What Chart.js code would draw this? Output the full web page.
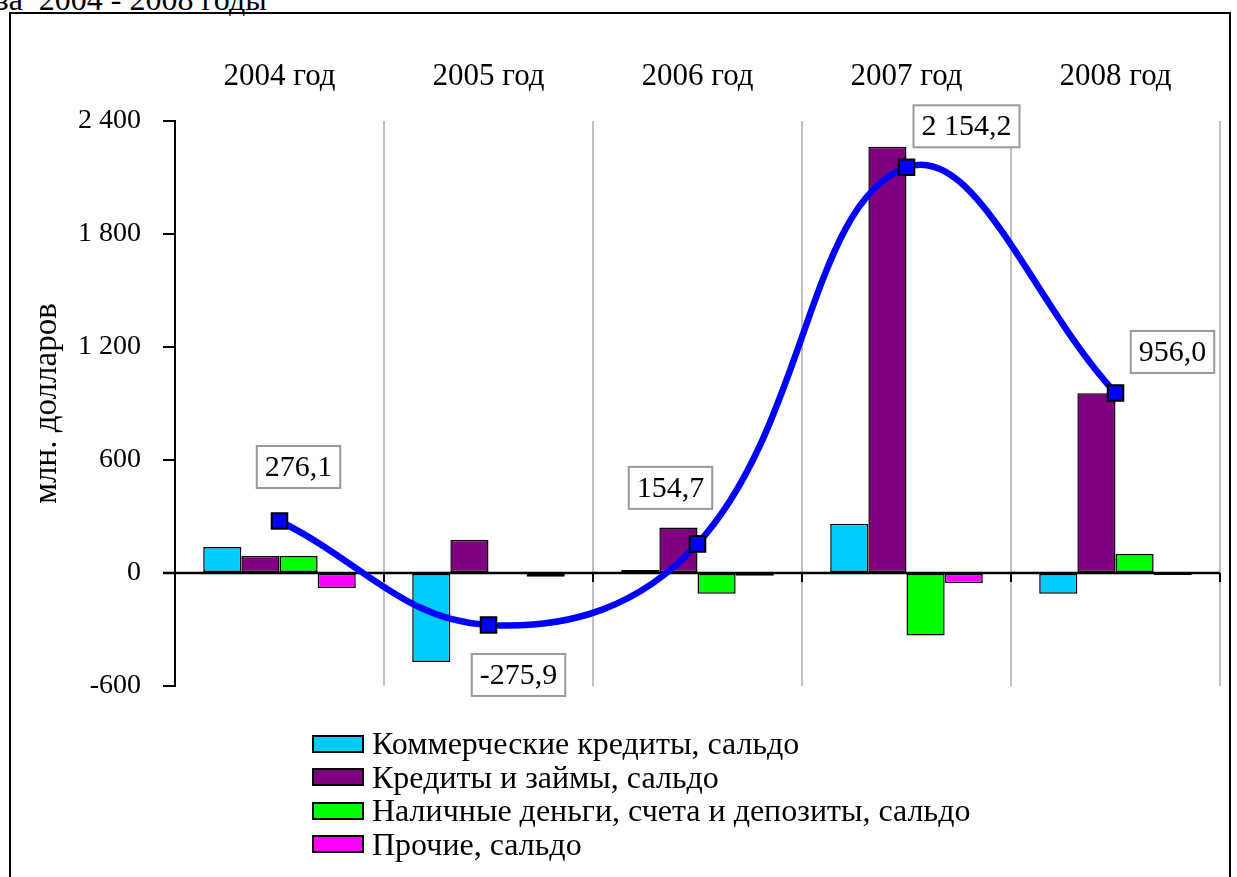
<!DOCTYPE html>
<html>
<head>
<meta charset="utf-8">
<script src="https://cdn.jsdelivr.net/npm/chart.js@4.4.0/dist/chart.umd.min.js"></script>
<style>
  html, body { margin: 0; padding: 0; background: #fff; }
  body { width: 1237px; height: 877px; position: relative; overflow: hidden; font-family: "Liberation Serif", "Times New Roman", serif; }
  #topText { position: absolute; left: -4px; top: -17px; font-size: 32px; line-height: 32px; white-space: pre; color: #000; }
  #frame { position: absolute; left: 9px; top: 12px; width: 1222px; height: 880px; border: 2px solid #000; box-sizing: border-box; }
  #chartWrap { position: absolute; left: 0; top: 0; width: 1237px; height: 877px; }
  #legend { position: absolute; left: 312px; top: 727px; font-size: 32px; line-height: 33.5px; color: #000; }
  .item { display: flex; align-items: center; white-space: nowrap; }
  .swatch { width: 52px; height: 18px; border: 2px solid #000; box-sizing: border-box; margin-right: 8px; }
</style>
</head>
<body>
<div id="topText">за  2004 - 2008 годы</div>
<div id="frame"></div>
<div id="chartWrap"><canvas id="chart" width="1237" height="877"></canvas></div>
<div id="legend"></div>
<script>
const years = ["2004 год", "2005 год", "2006 год", "2007 год", "2008 год"];
const commercial = [138, -472, 16, 262, -110];
const loans = [90, 176, 241, 2263, 954];
const cash = [90, 5, -110, -332, 101];
const other = [-80, -20, -15, -55, -10];
const total = [276.1, -275.9, 154.7, 2154.2, 956.0];
const yTicks = [-600, 0, 600, 1200, 1800, 2400];

const seriesNames = [
    "Коммерческие кредиты, сальдо",
    "Кредиты и займы, сальдо",
    "Наличные деньги, счета и депозиты, сальдо",
    "Прочие, сальдо"
];
const seriesColors = ["#00CCFF", "#800080", "#00FF00", "#FF00FF"];

const serif = "'Liberation Serif', 'Times New Roman', serif";

function fmt(v, dec) {
    let s = Math.abs(v).toFixed(dec).replace(".", ",");
    let parts = s.split(",");
    parts[0] = parts[0].replace(/\B(?=(\d{3})+(?!\d))/g, " ");
    return (v < 0 ? "-" : "") + parts.join(",");
}

// label box offsets from each point (px)
const labelOffsets = [[19, -54], [30, 50], [-27, -56], [60, -41], [57, -41]];

const extras = {
    id: "extras",
    beforeDatasetsDraw(chart) {
        const ctx = chart.ctx;
        const y = chart.scales.y;
        const area = chart.chartArea;
        const y0 = y.getPixelForValue(0);
        ctx.save();
        ctx.strokeStyle = "#000";
        ctx.lineWidth = 2.5;
        ctx.beginPath();
        ctx.moveTo(area.left - 12, y0);
        ctx.lineTo(area.right, y0);
        ctx.stroke();
        ctx.lineWidth = 2;
        const step = (area.right - area.left) / years.length;
        for (let i = 1; i <= years.length; i++) {
            const px = Math.round(area.left + step * i);
            ctx.beginPath();
            ctx.moveTo(px, y0);
            ctx.lineTo(px, y0 + 9);
            ctx.stroke();
        }
        ctx.restore();
    },
    afterDatasetsDraw(chart) {
        const ctx = chart.ctx;
        const meta = chart.getDatasetMeta(4);
        ctx.save();
        ctx.font = "30px " + serif;
        ctx.textAlign = "center";
        ctx.textBaseline = "middle";
        meta.data.forEach((pt, i) => {
            const txt = fmt(total[i], 1);
            const w = ctx.measureText(txt).width + 16;
            const h = 42;
            const cx = pt.x + labelOffsets[i][0];
            const cy = pt.y + labelOffsets[i][1];
            ctx.fillStyle = "#fff";
            ctx.fillRect(cx - w / 2, cy - h / 2, w, h);
            ctx.strokeStyle = "#999";
            ctx.lineWidth = 2;
            ctx.strokeRect(cx - w / 2, cy - h / 2, w, h);
            ctx.fillStyle = "#000";
            ctx.fillText(txt, cx, cy + 1);
        });
        ctx.restore();
    }
};

const barSets = [commercial, loans, cash, other].map((d, i) => ({
    type: "bar",
    label: seriesNames[i],
    data: d,
    backgroundColor: seriesColors[i],
    borderColor: "#000",
    borderWidth: 1.5,
    borderSkipped: false,
    barPercentage: 1,
    categoryPercentage: 0.73,
    order: 2
}));

new Chart(document.getElementById("chart").getContext("2d"), {
    data: {
        labels: years,
        datasets: barSets.concat([{
            type: "line",
            label: "Итого",
            data: total,
            borderColor: "#0000FF",
            borderWidth: 6.5,
            tension: 0.4,
            pointStyle: "rect",
            pointRadius: 11,
            pointBackgroundColor: "#0000FF",
            pointBorderColor: "#000",
            pointBorderWidth: 2,
            order: 1
        }])
    },
    options: {
        responsive: false,
        animation: false,
        layout: { padding: { left: 0, top: 0, right: 17, bottom: 191 } },
        plugins: {
            legend: { display: false },
            tooltip: { enabled: false }
        },
        scales: {
            x: {
                position: "top",
                offset: true,
                grid: { offset: true, color: "#c0c0c0", lineWidth: 2, drawTicks: false },
                border: { display: false },
                ticks: { color: "#000", font: { family: serif, size: 31 }, padding: 26, maxRotation: 0 },
                afterFit(scale) { scale.height = 121; }
            },
            y: {
                min: -600,
                max: 2400,
                afterBuildTicks(scale) { scale.ticks = yTicks.map(v => ({ value: v })); },
                grid: { drawOnChartArea: false, color: "#000", lineWidth: 2, tickLength: 12 },
                border: { display: true, color: "#000", width: 2 },
                ticks: {
                    color: "#000",
                    padding: 22,
                    font: { family: serif, size: 28 },
                    callback: v => fmt(v, 0)
                },
                title: {
                    display: true,
                    text: "млн. долларов",
                    color: "#000",
                    font: { family: serif, size: 33 },
                    padding: { top: 28, bottom: 0 }
                },
                afterFit(scale) { scale.width = 175; }
            }
        }
    },
    plugins: [extras]
});

const legend = document.getElementById("legend");
seriesNames.forEach((name, i) => {
    const row = document.createElement("div");
    row.className = "item";
    const sw = document.createElement("span");
    sw.className = "swatch";
    sw.style.background = seriesColors[i];
    const tx = document.createElement("span");
    tx.textContent = name;
    row.appendChild(sw);
    row.appendChild(tx);
    legend.appendChild(row);
});
</script>
</body>
</html>
